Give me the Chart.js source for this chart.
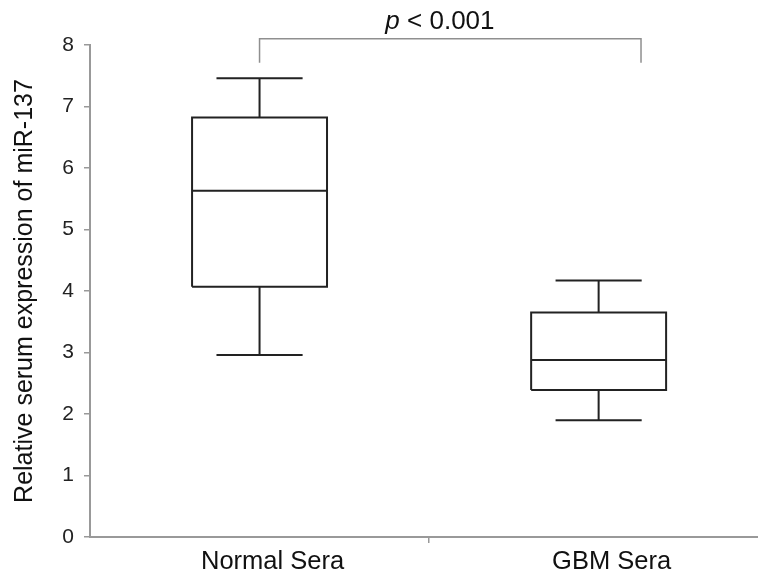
<!DOCTYPE html>
<html>
<head>
<meta charset="utf-8">
<script src="https://cdn.jsdelivr.net/npm/chart.js@4.4.1/dist/chart.umd.min.js"></script>
<style>
  body { margin: 0; background: #fff; }
</style>
</head>
<body>
<canvas id="boxChart" width="758" height="575"></canvas>
<script>
// Datos
const categories = ['Normal Sera', 'GBM Sera'];
const whiskerLow = [2.96, 1.90];
const q1 = [4.07, 2.39];
const median = [5.63, 2.88];
const q3 = [6.82, 3.65];
const whiskerHigh = [7.46, 4.17];
const yTicks = [0, 1, 2, 3, 4, 5, 6, 7, 8];
const pText = ['p', ' < 0.001'];

// Geometría de las cajas (en unidades del eje x)
const BOX_HALF = 0.199;
const CAP_HALF = 0.127;
const X_MAX = 1.97;

const GAP = { x: null, y: null };

// Construye los segmentos de una caja con bigotes
const boxSegments = (i) => {
    const c = i + 0.5;
    return [
        { x: c - BOX_HALF, y: q1[i] }, { x: c + BOX_HALF, y: q1[i] },
        { x: c + BOX_HALF, y: q3[i] }, { x: c - BOX_HALF, y: q3[i] },
        { x: c - BOX_HALF, y: q1[i] }, GAP,
        { x: c - BOX_HALF, y: median[i] }, { x: c + BOX_HALF, y: median[i] }, GAP,
        { x: c, y: q3[i] }, { x: c, y: whiskerHigh[i] }, GAP,
        { x: c - CAP_HALF, y: whiskerHigh[i] }, { x: c + CAP_HALF, y: whiskerHigh[i] }, GAP,
        { x: c, y: q1[i] }, { x: c, y: whiskerLow[i] }, GAP,
        { x: c - CAP_HALF, y: whiskerLow[i] }, { x: c + CAP_HALF, y: whiskerLow[i] }
    ];
};

// Corchete de significancia
const bracketLeft = 0.5;
const bracketRight = 1.625;
const bracketTop = 8.10;
const bracketFoot = 7.71;
const pCenterX = 1.032;

const boxDatasets = categories.map((name, i) => ({
    label: name,
    data: boxSegments(i),
    showLine: true,
    spanGaps: false,
    borderColor: '#222',
    borderWidth: 2,
    pointRadius: 0,
    fill: false
}));

const bracketDataset = {
    label: 'bracket',
    data: [
        { x: bracketLeft, y: bracketFoot }, { x: bracketLeft, y: bracketTop },
        { x: bracketRight, y: bracketTop }, { x: bracketRight, y: bracketFoot }
    ],
    showLine: true,
    borderColor: '#8f8f8f',
    borderWidth: 1.5,
    pointRadius: 0,
    clip: false,
    fill: false
};

// Texto del valor p sobre el corchete
const pValuePlugin = {
    id: 'pValue',
    afterDraw(chart) {
        const { ctx, scales } = chart;
        const cx = scales.x.getPixelForValue(pCenterX);
        const y = scales.y.getPixelForValue(bracketTop) - 10;
        const italic = 'italic 26px "Liberation Sans", Arial, sans-serif';
        const normal = '26px "Liberation Sans", Arial, sans-serif';
        ctx.save();
        ctx.fillStyle = '#111';
        ctx.textBaseline = 'alphabetic';
        ctx.font = italic;
        const w1 = ctx.measureText(pText[0]).width;
        ctx.font = normal;
        const w2 = ctx.measureText(pText[1]).width;
        const start = cx - (w1 + w2) / 2;
        ctx.font = italic;
        ctx.fillText(pText[0], start, y);
        ctx.font = normal;
        ctx.fillText(pText[1], start + w1, y);
        ctx.restore();
    }
};

const chart = new Chart(document.getElementById('boxChart'), {
    type: 'scatter',
    data: { datasets: [...boxDatasets, bracketDataset] },
    plugins: [pValuePlugin],
    options: {
        responsive: false,
        animation: false,
        layout: { padding: { top: 45, left: 0, right: 0, bottom: 0 } },
        plugins: {
            legend: { display: false },
            tooltip: { enabled: false }
        },
        scales: {
            x: {
                type: 'linear',
                min: 0,
                max: X_MAX,
                afterBuildTicks: (scale) => {
                    scale.ticks = [{ value: 0.5 }, { value: 1 }, { value: 1.5 }];
                },
                afterFit: (scale) => { scale.height = 38; },
                ticks: {
                    autoSkip: false,
                    maxRotation: 0,
                    padding: 4,
                    labelOffset: 13,
                    color: '#111',
                    font: { family: '"Liberation Sans", Arial, sans-serif', size: 25.5 },
                    callback: (value) => {
                        const idx = Math.floor(value);
                        return value - idx === 0.5 ? categories[idx] : '';
                    }
                },
                grid: {
                    drawOnChartArea: false,
                    drawTicks: true,
                    tickLength: 6,
                    lineWidth: 1.5,
                    color: (ctx) => (ctx.tick && ctx.tick.value === 1 ? '#999' : 'rgba(0,0,0,0)')
                },
                border: { color: '#999', width: 2 }
            },
            y: {
                min: 0,
                max: 8,
                afterBuildTicks: (scale) => {
                    scale.ticks = yTicks.map(v => ({ value: v }));
                },
                afterFit: (scale) => { scale.width = 90; },
                ticks: {
                    padding: 10,
                    color: '#222',
                    font: { family: '"Liberation Sans", Arial, sans-serif', size: 21 }
                },
                grid: {
                    drawOnChartArea: false,
                    drawTicks: true,
                    tickLength: 6,
                    lineWidth: 1.5,
                    color: '#999'
                },
                border: { color: '#999', width: 2 },
                title: {
                    display: true,
                    text: 'Relative serum expression of miR-137',
                    color: '#111',
                    padding: { top: 10, bottom: 0 },
                    font: { family: '"Liberation Sans", Arial, sans-serif', size: 25 }
                }
            }
        }
    }
});
</script>
</body>
</html>
